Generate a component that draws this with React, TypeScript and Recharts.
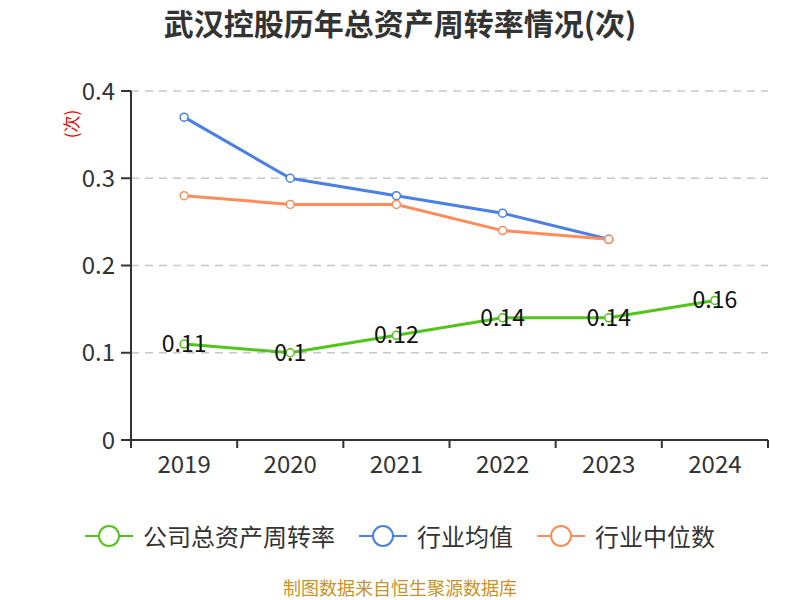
import { LineChart, Line, XAxis, YAxis, CartesianGrid, LabelList } from 'recharts';

const years = ['2019', '2020', '2021', '2022', '2023', '2024'];
const companyTurnover = [0.11, 0.1, 0.12, 0.14, 0.14, 0.16];
const industryAvg = [0.37, 0.3, 0.28, 0.26, 0.23];
const industryMedian = [0.28, 0.27, 0.27, 0.24, 0.23];
const yTicks = [0, 0.1, 0.2, 0.3, 0.4];

const SERIES = [
  { key: 'company', name: '公司总资产周转率', color: '#52c41a' },
  { key: 'avg', name: '行业均值', color: '#4a7fe4' },
  { key: 'median', name: '行业中位数', color: '#fd8c5a' },
];

const FONT = '"Noto Sans CJK SC", "Noto Sans", sans-serif';
const W = 800;
const H = 600;
const M = { top: 91, right: 32, bottom: 100, left: 0 };
const Y_W = 131;
const BAND = (W - M.right - Y_W) / years.length;

const data = years.map((y, i) => ({
  year: y,
  company: companyTurnover[i],
  avg: industryAvg[i],
  median: industryMedian[i],
}));

const XTick = (p: any) => {
  const { x, y, payload, index } = p;
  const last = index === years.length - 1;
  return (
    <g>
      <line x1={x - BAND / 2} x2={x - BAND / 2} y1={y - 8} y2={y} stroke="#333" strokeWidth={2} />
      {last && <line x1={x + BAND / 2} x2={x + BAND / 2} y1={y - 8} y2={y} stroke="#333" strokeWidth={2} />}
      <text x={x} y={y + 25} textAnchor="middle" fontSize={24} fill="#333" fontFamily={FONT}>{payload.value}</text>
    </g>
  );
};

const ValueLabel = (p: any) => {
  const x = p.x ?? p.viewBox?.x;
  const y = p.y ?? p.viewBox?.y;
  return (
    <text x={x} y={y + 8} textAnchor="middle" fontSize={23} fill="#111" fontFamily={FONT}>
      {p.value}
    </text>
  );
};

export default function App() {
  return (
    <div style={{ position: 'absolute', left: 0, top: 0, width: W, height: H, background: '#fff', fontFamily: FONT }}>
      <div style={{ position: 'absolute', top: 6, width: W, textAlign: 'center', fontSize: 30, lineHeight: '32px', fontWeight: 'bold', color: '#333' }}>
        武汉控股历年总资产周转率情况(次)
      </div>
      <div style={{ position: 'absolute', left: 57, top: 114, fontSize: 17, lineHeight: '20px', color: '#e00', transform: 'rotate(-90deg)', transformOrigin: 'center' }}>
        (次)
      </div>
      <LineChart width={W} height={H} data={data} margin={M}>
        <CartesianGrid vertical={false} stroke="#c8c8c8" strokeDasharray="8 6" strokeWidth={1.5} />
        <XAxis
          dataKey="year"
          scale="band"
          height={60}
          axisLine={{ stroke: '#333', strokeWidth: 2 }}
          tickLine={false}
          tick={XTick}
          interval={0}
        />
        <YAxis
          width={Y_W}
          domain={[0, 0.4]}
          ticks={yTicks}
          tickFormatter={(v: number) => String(v)}
          axisLine={{ stroke: '#333', strokeWidth: 2 }}
          tickLine={{ stroke: '#333', strokeWidth: 2 }}
          tickSize={10}
          tickMargin={6}
          tick={{ fontSize: 24, fill: '#333', fontFamily: FONT }}
        />
        <Line dataKey="avg" stroke={SERIES[1].color} strokeWidth={3} isAnimationActive={false}
          dot={{ r: 4, fill: '#fff', stroke: SERIES[1].color, strokeWidth: 1.5 }} />
        <Line dataKey="median" stroke={SERIES[2].color} strokeWidth={3} isAnimationActive={false}
          dot={{ r: 4, fill: '#fff', stroke: SERIES[2].color, strokeWidth: 1.5 }} />
        <Line dataKey="company" stroke={SERIES[0].color} strokeWidth={3} isAnimationActive={false}
          dot={{ r: 4, fill: '#fff', stroke: SERIES[0].color, strokeWidth: 1.5 }}>
          <LabelList dataKey="company" content={ValueLabel} />
        </Line>
      </LineChart>
      <div style={{ position: 'absolute', top: 521, width: W, display: 'flex', justifyContent: 'center', gap: 24 }}>
        {SERIES.map((s) => (
          <div key={s.key} style={{ display: 'flex', alignItems: 'center', gap: 10 }}>
            <svg width={48} height={30}>
              <line x1={0} x2={48} y1={15} y2={15} stroke={s.color} strokeWidth={2} />
              <circle cx={24} cy={15} r={10} fill="#fff" stroke={s.color} strokeWidth={2} />
            </svg>
            <span style={{ fontSize: 24, lineHeight: '30px', color: '#333' }}>{s.name}</span>
          </div>
        ))}
      </div>
      <div style={{ position: 'absolute', top: 578, width: W, textAlign: 'center', fontSize: 18, lineHeight: '18px', color: '#c8922a' }}>
        制图数据来自恒生聚源数据库
      </div>
    </div>
  );
}
